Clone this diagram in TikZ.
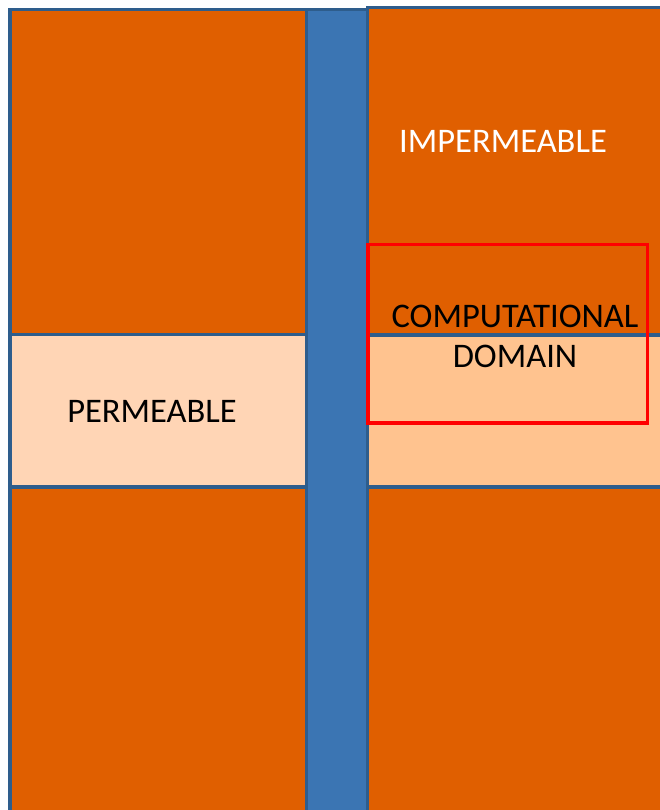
\documentclass[tikz,border=0pt]{standalone}
\usepackage{fontspec}
\setmainfont{Carlito}
\definecolor{rock}{HTML}{E05F00}
\definecolor{permleft}{HTML}{FFD5B5}
\definecolor{permright}{HTML}{FFC38F}
\definecolor{well}{HTML}{3B75B3}
\definecolor{edge}{HTML}{2E5D8C}
\definecolor{domainred}{HTML}{FF0000}
\tikzset{
  layer/.style={draw=edge, line width=3.5pt},
  label/.style={anchor=base, font=\fontsize{34.5}{40}\selectfont, inner sep=0pt},
}
\begin{document}
\begin{tikzpicture}[x=1pt, y=-1pt]
  \useasboundingbox (0,0) rectangle (660,810);
  \clip (0,0) rectangle (660,810);
  % left column: rock, permeable layer, rock
  \fill[rock] (10,9.5) rectangle (306.5,334.5);
  \fill[permleft] (10,334.5) rectangle (306.5,487);
  \fill[rock] (10,487) rectangle (306.5,815);
  % wellbore
  \fill[well] (306.5,9.5) rectangle (367.5,815);
  % right column
  \fill[rock] (367.5,7.5) rectangle (665,335);
  \fill[permright] (367.5,335) rectangle (665,487);
  \fill[rock] (367.5,487) rectangle (665,815);
  % outlines
  \draw[layer] (10,9.5) rectangle (306.5,334.5);
  \draw[layer] (10,334.5) rectangle (306.5,487);
  \draw[layer] (10,487) rectangle (306.5,815);
  \draw[layer] (306.5,9.5) rectangle (367.5,815);
  \draw[layer] (367.5,7.5) rectangle (665,335);
  \draw[layer] (367.5,335) rectangle (665,487);
  \draw[layer] (367.5,487) rectangle (665,815);
  % computational domain
  \draw[domainred, line width=3.5pt] (368,244.5) rectangle (647.5,423);
  % labels
  \node[label, text=white] (imp) at (503,153) {IMPERMEABLE};
  \node[label] (perm) at (152,422) {PERMEABLE};
  \node[label] (comp) at (515,327) {COMPUTATIONAL};
  \node[label] (dom) at (515,367) {DOMAIN};
\end{tikzpicture}
\end{document}
